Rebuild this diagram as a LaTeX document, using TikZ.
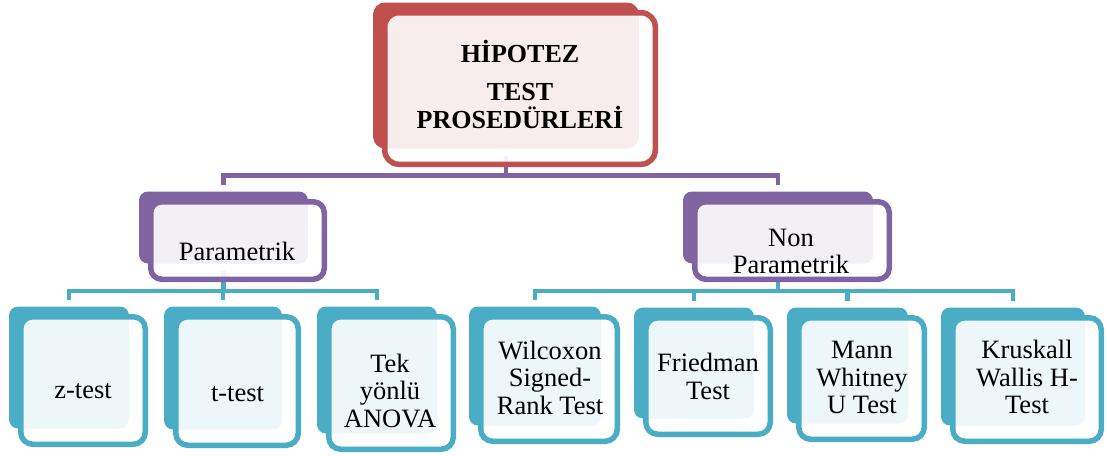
\documentclass[tikz,border=0pt]{standalone}
\usepackage{fontspec}
\setmainfont{Liberation Serif}
\definecolor{redc}{HTML}{C0504D}
\definecolor{purc}{HTML}{8064A2}
\definecolor{bluc}{HTML}{4BACC6}
\tikzset{
  backbox/.style={draw=none, inner sep=0pt, outer sep=0pt},
  frontbox/.style={line width=5.5pt, fill=white, fill opacity=0.9, inner sep=0pt, outer sep=0pt},
  lbl/.style={font=\fontsize{26.5}{27.5}\selectfont, align=center, inner sep=0pt, text=black},
  conn/.style={line width=4.5pt},
}
% solid back panel of a card; #3..#6 are the outer edges of the card's front frame
\newcommand\backcard[7]{%
  \pgfmathsetmacro\cardX{(#4+#6)/2-14}%
  \pgfmathsetmacro\cardY{(#5+#7)/2-13}%
  \pgfmathsetmacro\cardW{#6-#4-10}%
  \pgfmathsetmacro\cardH{#7-#5-11}%
  \node[backbox, fill=#2, rounded corners=#3pt, minimum width=\cardW pt, minimum height=\cardH pt] (#1b) at (\cardX,\cardY) {};
}
% outlined, lightly tinted front frame of a card
\newcommand\frontcard[7]{%
  \pgfmathsetmacro\cardX{(#4+#6)/2}%
  \pgfmathsetmacro\cardY{(#5+#7)/2}%
  \pgfmathsetmacro\cardW{#6-#4-5.5}%
  \pgfmathsetmacro\cardH{#7-#5-5.5}%
  \node[frontbox, draw=#2, rounded corners=#3pt, minimum width=\cardW pt, minimum height=\cardH pt] (#1f) at (\cardX,\cardY) {};
}
\begin{document}
\begin{tikzpicture}[x=1pt,y=-1pt]
\useasboundingbox (0,0) rectangle (1107,455);

% back panels
\backcard{top}{redc}{12}{382}{10}{658}{167}
\backcard{par}{purc}{9}{148}{199}{327}{282}
\backcard{non}{purc}{9}{692}{199}{892}{282}
\backcard{z}{bluc}{9}{18}{314}{148}{447}
\backcard{t}{bluc}{9}{173}{314}{301}{448}
\backcard{an}{bluc}{9}{326}{314}{456}{452}
\backcard{wil}{bluc}{9}{478}{314}{620}{444}
\backcard{fri}{bluc}{9}{643}{315}{773}{437}
\backcard{man}{bluc}{9}{796}{315}{927}{442}
\backcard{kru}{bluc}{9}{950}{315}{1104}{444}

% connectors
\coordinate (busA) at (0,175.5);
\coordinate (busB) at (0,291);
\foreach \c in {parb,nonb}
  \draw[conn, purc] ([yshift=-7pt]topb.south) -- (topb.south |- busA) -| ([yshift=7pt]\c.north);
\foreach \c in {zb,tb,anb}
  \draw[conn, bluc] ([yshift=-7pt]parb.south) -- (parb.south |- busB) -| ([yshift=7pt]\c.north);
\foreach \c in {wilb,frib,manb,krub}
  \draw[conn, bluc] ([yshift=-7pt]nonb.south) -- (nonb.south |- busB) -| ([yshift=7pt]\c.north);

% front frames
\frontcard{top}{redc}{14}{382}{10}{658}{167}
\frontcard{par}{purc}{11}{148}{199}{327}{282}
\frontcard{non}{purc}{11}{692}{199}{892}{282}
\frontcard{z}{bluc}{12}{18}{314}{148}{447}
\frontcard{t}{bluc}{12}{173}{314}{301}{448}
\frontcard{an}{bluc}{12}{326}{314}{456}{452}
\frontcard{wil}{bluc}{12}{478}{314}{620}{444}
\frontcard{fri}{bluc}{12}{643}{315}{773}{437}
\frontcard{man}{bluc}{12}{796}{315}{927}{442}
\frontcard{kru}{bluc}{12}{950}{315}{1104}{444}

% labels
\node[lbl, font=\bfseries\fontsize{26}{28}\selectfont] (toptxt) at (520,84.4) {HİPOTEZ\\[9.5pt]TEST\\PROSEDÜRLERİ};
\node[lbl] (partxt) at (237,251.5) {Parametrik};
\node[lbl] (nontxt) at (791,251.5) {Non\\Parametrik};
\node[lbl] (ztxt) at (83,391) {z-test};
\node[lbl] (ttxt) at (237.5,394.5) {t-test};
\node[lbl] (antxt) at (390,391) {Tek\\yönlü\\ANOVA};
\node[lbl] (wiltxt) at (550,377.7) {Wilcoxon\\Signed-\\Rank Test};
\node[lbl] (fritxt) at (708,376.5) {Friedman\\Test};
\node[lbl] (mantxt) at (862,377.5) {Mann\\Whitney\\U Test};
\node[lbl] (krutxt) at (1027,377.3) {Kruskall\\Wallis H-\\Test};
\end{tikzpicture}
\end{document}
